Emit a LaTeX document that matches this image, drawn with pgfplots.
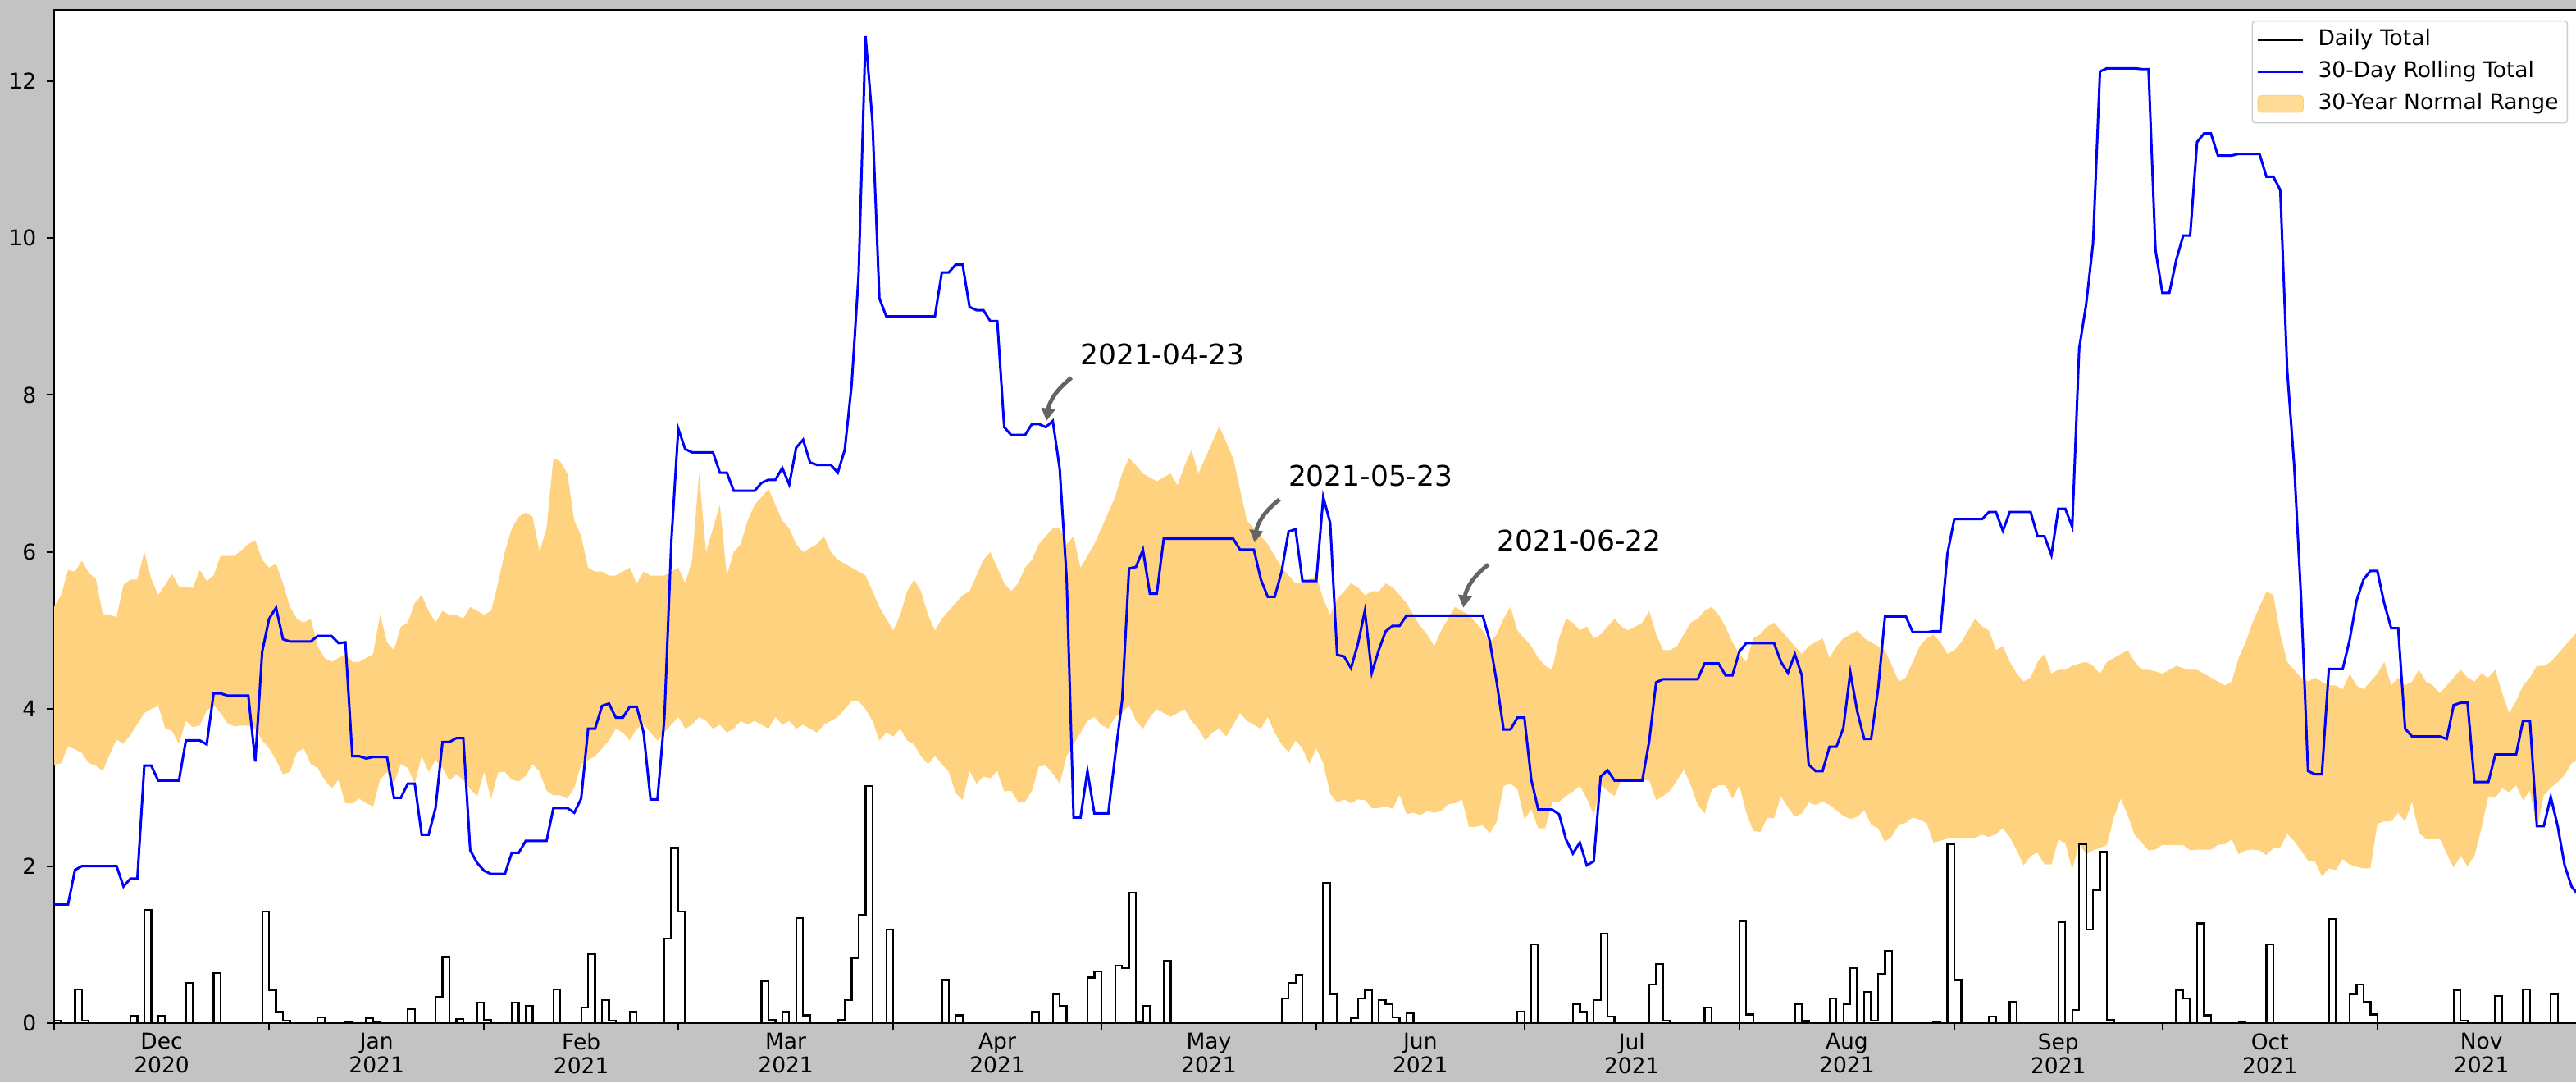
\documentclass[border=0pt]{standalone}
\usepackage{pgfplots}
\pgfplotsset{compat=1.18}
\usetikzlibrary{arrows.meta}
\usepackage{fontspec}
\setmainfont{DejaVu Sans}
\definecolor{bgcol}{RGB}{195,195,195}
\definecolor{bandcol}{RGB}{255,210,127}
\definecolor{arrcol}{RGB}{100,100,100}
\begin{document}
\begin{tikzpicture}[x=1cm,y=1cm]
\fill[bgcol] (0,0) rectangle (31.41,13.19);
\begin{axis}[
  at={(0.66cm,0.72cm)}, anchor=south west,
  scale only axis, width=30.78cm, height=12.35cm,
  xmin=0, xmax=364, ymin=0, ymax=12.905,
  axis background/.style={fill=white},
  axis line style={line width=0.6pt},
  every tick/.style={black, line width=0.6pt},
  tick align=outside, tick pos=left,
  major tick length=2.65pt, minor tick length=2.65pt,
  ytick={0,2,4,6,8,10,12},
  /pgf/number format/assume math mode=true,
  ticklabel style={font=\fontsize{7.54pt}{8.3pt}\selectfont},
  xtick={0,31,62,90,121,151,182,212,243,274,304,335},
  xticklabels={},
  extra x ticks={15.5,46.5,76,105.5,136,166.5,197,227.5,258.5,289,319.5,350},
  extra x tick labels={{Dec\\2020},{Jan\\2021},{Feb\\2021},{Mar\\2021},{Apr\\2021},{May\\2021},{Jun\\2021},{Jul\\2021},{Aug\\2021},{Sep\\2021},{Oct\\2021},{Nov\\2021}},
  extra x tick style={major tick length=0pt, xticklabel style={align=center, font=\fontsize{7.54pt}{8.25pt}\selectfont}},
  legend cell align=left,
  legend image code/.code={\draw[#1] (0pt,0pt) -- (15.6pt,0pt);},
  legend style={font=\fontsize{7.54pt}{9pt}\selectfont, draw=black!20, rounded corners=1pt,
    fill=white, fill opacity=0.8, text opacity=1,
    at={(rel axis cs:0.9958,0.9895)}, anchor=north east,
    inner xsep=1.6pt, inner ysep=1.3pt, row sep=0.6pt, column sep=3.3pt,
    nodes={inner sep=1.5pt, text height=5.7pt, text depth=1.8pt}},
]
% 30-year normal range: upper edge (day 0 -> 364), then lower edge (day 364 -> 0)
\addplot[fill=bandcol, draw=none, forget plot] coordinates {
(0,5.30)(1,5.45)(2,5.77)(3,5.75)(4,5.89)(5,5.73)(6,5.66)(7,5.21)(8,5.20)(9,5.17)(10,5.58)(11,5.65)(12,5.65)(13,6.00)(14,5.66)(15,5.45)(16,5.58)(17,5.72)(18,5.56)(19,5.56)(20,5.54)(21,5.77)(22,5.63)(23,5.70)(24,5.95)(25,5.95)(26,5.95)(27,6.02)(28,6.10)(29,6.15)(30,5.90)(31,5.80)(32,5.85)(33,5.60)(34,5.30)(35,5.15)(36,5.10)(37,5.15)(38,4.80)(39,4.65)(40,4.60)(41,4.65)(42,4.70)(43,4.60)(44,4.60)(45,4.65)(46,4.70)(47,5.20)(48,4.85)(49,4.75)(50,5.05)(51,5.10)(52,5.35)(53,5.45)(54,5.25)(55,5.10)(56,5.25)(57,5.20)(58,5.20)(59,5.15)(60,5.30)(61,5.25)(62,5.20)(63,5.25)(64,5.60)(65,6.00)(66,6.30)(67,6.45)(68,6.50)(69,6.45)(70,6.00)(71,6.30)(72,7.20)(73,7.15)(74,7.00)(75,6.40)(76,6.20)(77,5.80)(78,5.75)(79,5.75)(80,5.70)(81,5.70)(82,5.75)(83,5.80)(84,5.60)(85,5.75)(86,5.70)(87,5.70)(88,5.70)(89,5.75)(90,5.80)(91,5.60)(92,5.90)(93,7.00)(94,6.00)(95,6.30)(96,6.60)(97,5.70)(98,6.00)(99,6.10)(100,6.40)(101,6.60)(102,6.70)(103,6.80)(104,6.60)(105,6.40)(106,6.30)(107,6.10)(108,6.00)(109,6.05)(110,6.10)(111,6.20)(112,6.00)(113,5.90)(114,5.85)(115,5.80)(116,5.75)(117,5.70)(118,5.50)(119,5.30)(120,5.15)(121,5.00)(122,5.20)(123,5.50)(124,5.65)(125,5.50)(126,5.20)(127,5.00)(128,5.15)(129,5.25)(130,5.35)(131,5.45)(132,5.50)(133,5.70)(134,5.90)(135,6.00)(136,5.80)(137,5.60)(138,5.50)(139,5.60)(140,5.80)(141,5.90)(142,6.10)(143,6.20)(144,6.30)(145,6.30)(146,6.10)(147,6.20)(148,5.80)(149,5.95)(150,6.10)(151,6.30)(152,6.50)(153,6.70)(154,7.00)(155,7.20)(156,7.10)(157,7.00)(158,6.95)(159,6.90)(160,6.95)(161,7.00)(162,6.85)(163,7.10)(164,7.30)(165,7.00)(166,7.20)(167,7.40)(168,7.60)(169,7.40)(170,7.20)(171,6.80)(172,6.40)(173,6.30)(174,6.20)(175,6.10)(176,5.95)(177,5.80)(178,5.70)(179,5.60)(180,5.60)(181,5.65)(182,5.70)(183,5.40)(184,5.20)(185,5.40)(186,5.50)(187,5.60)(188,5.55)(189,5.45)(190,5.50)(191,5.50)(192,5.60)(193,5.55)(194,5.45)(195,5.35)(196,5.20)(197,5.05)(198,4.95)(199,4.80)(200,5.00)(201,5.15)(202,5.30)(203,5.25)(204,5.20)(205,5.10)(206,5.00)(207,4.85)(208,4.95)(209,5.15)(210,5.30)(211,5.00)(212,4.90)(213,4.80)(214,4.65)(215,4.55)(216,4.50)(217,4.90)(218,5.15)(219,5.10)(220,5.00)(221,5.05)(222,4.90)(223,4.95)(224,5.05)(225,5.15)(226,5.05)(227,5.00)(228,5.05)(229,5.10)(230,5.25)(231,4.95)(232,4.75)(233,4.75)(234,4.80)(235,4.95)(236,5.10)(237,5.15)(238,5.25)(239,5.30)(240,5.20)(241,5.05)(242,4.85)(243,4.70)(244,4.60)(245,4.90)(246,4.95)(247,5.05)(248,5.10)(249,5.00)(250,4.90)(251,4.80)(252,4.70)(253,4.80)(254,4.85)(255,4.90)(256,4.65)(257,4.80)(258,4.90)(259,4.95)(260,5.00)(261,4.90)(262,4.85)(263,4.80)(264,4.75)(265,4.55)(266,4.35)(267,4.40)(268,4.60)(269,4.80)(270,4.90)(271,4.95)(272,4.85)(273,4.70)(274,4.75)(275,4.85)(276,5.00)(277,5.15)(278,5.05)(279,5.00)(280,4.75)(281,4.80)(282,4.60)(283,4.45)(284,4.35)(285,4.40)(286,4.60)(287,4.70)(288,4.45)(289,4.50)(290,4.50)(291,4.55)(292,4.58)(293,4.60)(294,4.55)(295,4.45)(296,4.60)(297,4.65)(298,4.70)(299,4.75)(300,4.60)(301,4.50)(302,4.50)(303,4.48)(304,4.45)(305,4.50)(306,4.55)(307,4.52)(308,4.50)(309,4.50)(310,4.45)(311,4.40)(312,4.35)(313,4.30)(314,4.35)(315,4.65)(316,4.85)(317,5.10)(318,5.30)(319,5.50)(320,5.45)(321,4.95)(322,4.60)(323,4.50)(324,4.40)(325,4.35)(326,4.40)(327,4.35)(328,4.30)(329,4.30)(330,4.25)(331,4.45)(332,4.30)(333,4.25)(334,4.35)(335,4.45)(336,4.60)(337,4.30)(338,4.40)(339,4.30)(340,4.35)(341,4.50)(342,4.35)(343,4.30)(344,4.20)(345,4.30)(346,4.40)(347,4.50)(348,4.40)(349,4.35)(350,4.45)(351,4.40)(352,4.50)(353,4.20)(354,3.95)(355,4.10)(356,4.30)(357,4.40)(358,4.55)(359,4.55)(360,4.60)(361,4.70)(362,4.80)(363,4.90)(364,5.00)
(364,3.35)(363,3.31)(362,3.16)(361,3.07)(360,3.00)(359,2.90)(358,2.48)(357,2.96)(356,2.84)(355,3.03)(354,2.94)(353,2.99)(352,2.87)(351,2.89)(350,2.48)(349,2.13)(348,2.00)(347,2.13)(346,1.98)(345,2.16)(344,2.35)(343,2.35)(342,2.35)(341,2.42)(340,2.82)(339,2.57)(338,2.68)(337,2.57)(336,2.57)(335,2.54)(334,1.97)(333,1.97)(332,1.99)(331,2.02)(330,2.09)(329,1.95)(328,1.97)(327,1.87)(326,2.06)(325,2.07)(324,2.20)(323,2.32)(322,2.41)(321,2.24)(320,2.23)(319,2.14)(318,2.20)(317,2.21)(316,2.20)(315,2.15)(314,2.34)(313,2.28)(312,2.27)(311,2.21)(310,2.21)(309,2.21)(308,2.20)(307,2.27)(306,2.27)(305,2.27)(304,2.27)(303,2.21)(302,2.20)(301,2.30)(300,2.40)(299,2.65)(298,2.86)(297,2.62)(296,2.27)(295,2.23)(294,2.20)(293,2.15)(292,2.29)(291,1.96)(290,2.29)(289,2.34)(288,2.02)(287,2.02)(286,2.17)(285,2.13)(284,2.01)(283,2.20)(282,2.37)(281,2.48)(280,2.41)(279,2.37)(278,2.40)(277,2.36)(276,2.36)(275,2.36)(274,2.36)(273,2.36)(272,2.32)(271,2.30)(270,2.55)(269,2.59)(268,2.62)(267,2.55)(266,2.53)(265,2.38)(264,2.31)(263,2.48)(262,2.53)(261,2.71)(260,2.63)(259,2.60)(258,2.64)(257,2.71)(256,2.78)(255,2.82)(254,2.78)(253,2.81)(252,2.67)(251,2.63)(250,2.75)(249,2.89)(248,2.61)(247,2.61)(246,2.43)(245,2.45)(244,2.68)(243,3.03)(242,2.86)(241,3.03)(240,3.03)(239,2.97)(238,2.67)(237,2.78)(236,3.03)(235,3.23)(234,3.09)(233,2.96)(232,2.89)(231,2.84)(230,3.09)(229,3.10)(228,3.10)(227,3.10)(226,3.10)(225,2.89)(224,2.96)(223,3.03)(222,2.65)(221,2.86)(220,3.02)(219,2.95)(218,2.89)(217,2.82)(216,2.81)(215,2.48)(214,2.48)(213,2.72)(212,2.60)(211,2.98)(210,3.05)(209,3.02)(208,2.56)(207,2.42)(206,2.52)(205,2.50)(204,2.50)(203,2.85)(202,2.80)(201,2.79)(200,2.70)(199,2.68)(198,2.70)(197,2.65)(196,2.68)(195,2.66)(194,2.91)(193,2.73)(192,2.76)(191,2.74)(190,2.74)(189,2.84)(188,2.85)(187,2.80)(186,2.85)(185,2.81)(184,2.92)(183,3.31)(182,3.50)(181,3.30)(180,3.50)(179,3.60)(178,3.45)(177,3.55)(176,3.70)(175,3.90)(174,3.75)(173,3.80)(172,3.85)(171,3.95)(170,3.80)(169,3.65)(168,3.75)(167,3.70)(166,3.60)(165,3.75)(164,3.85)(163,4.00)(162,3.95)(161,3.90)(160,3.95)(159,4.00)(158,3.90)(157,3.75)(156,3.85)(155,4.05)(154,3.95)(153,3.90)(152,3.75)(151,3.80)(150,3.90)(149,3.85)(148,3.70)(147,3.55)(146,3.40)(145,3.05)(144,3.18)(143,3.28)(142,3.27)(141,2.96)(140,2.82)(139,2.82)(138,2.96)(137,2.95)(136,3.21)(135,3.12)(134,3.14)(133,3.05)(132,3.21)(131,2.84)(130,2.93)(129,3.20)(128,3.30)(127,3.40)(126,3.30)(125,3.40)(124,3.55)(123,3.60)(122,3.75)(121,3.65)(120,3.70)(119,3.60)(118,3.85)(117,4.00)(116,4.10)(115,4.10)(114,4.00)(113,3.90)(112,3.85)(111,3.80)(110,3.70)(109,3.75)(108,3.80)(107,3.75)(106,3.85)(105,3.80)(104,3.90)(103,3.75)(102,3.80)(101,3.85)(100,3.80)(99,3.85)(98,3.75)(97,3.70)(96,3.80)(95,3.75)(94,3.85)(93,3.90)(92,3.80)(91,3.75)(90,3.90)(89,3.80)(88,3.70)(87,3.60)(86,3.70)(85,3.80)(84,3.75)(83,3.60)(82,3.70)(81,3.75)(80,3.60)(79,3.50)(78,3.40)(77,3.35)(76,3.30)(75,3.00)(74,2.86)(73,2.90)(72,2.90)(71,2.96)(70,3.20)(69,3.30)(68,3.15)(67,3.08)(66,3.10)(65,3.20)(64,3.19)(63,2.86)(62,3.20)(61,2.89)(60,2.98)(59,3.10)(58,3.17)(57,3.09)(56,3.25)(55,3.35)(54,3.20)(53,3.40)(52,3.05)(51,3.25)(50,3.30)(49,3.05)(48,3.20)(47,3.10)(46,2.76)(45,2.80)(44,2.86)(43,2.80)(42,2.80)(41,3.10)(40,2.99)(39,3.10)(38,3.25)(37,3.30)(36,3.50)(35,3.45)(34,3.20)(33,3.17)(32,3.35)(31,3.50)(30,3.60)(29,3.75)(28,3.79)(27,3.79)(26,3.78)(25,3.82)(24,3.95)(23,4.05)(22,3.98)(21,3.79)(20,3.77)(19,3.85)(18,3.56)(17,3.72)(16,3.76)(15,4.04)(14,4.00)(13,3.95)(12,3.81)(11,3.67)(10,3.56)(9,3.61)(8,3.42)(7,3.21)(6,3.28)(5,3.31)(4,3.44)(3,3.49)(2,3.52)(1,3.31)(0,3.29)
};
% daily total
\addplot[const plot, black, line width=0.65pt] coordinates {
(0,0.03)(1,0)(3,0.43)(4,0.035)(5,0)(11,0.09)(12,0)(13,1.44)(14,0)(15,0.09)(16,0)(19,0.515)(20,0)(23,0.64)(24,0)(30,1.42)(31,0.42)(32,0.14)(33,0.035)(34,0)(38,0.07)(39,0)(42,0.014)(43,0)(45,0.06)(46,0.015)(47,0)(51,0.18)(52,0)(55,0.33)(56,0.84)(57,0)(58,0.05)(59,0)(61,0.26)(62,0.04)(63,0)(66,0.26)(67,0)(68,0.22)(69,0)(72,0.43)(73,0)(76,0.20)(77,0.88)(78,0)(79,0.29)(80,0.03)(81,0)(83,0.14)(84,0)(88,1.08)(89,2.23)(90,1.42)(91,0)(102,0.53)(103,0.04)(104,0)(105,0.14)(106,0)(107,1.34)(108,0.10)(109,0)(113,0.04)(114,0.29)(115,0.83)(116,1.38)(117,3.02)(118,0)(120,1.19)(121,0)(128,0.55)(129,0)(130,0.10)(131,0)(141,0.14)(142,0)(144,0.37)(145,0.22)(146,0)(149,0.58)(150,0.66)(151,0)(153,0.73)(154,0.70)(155,1.66)(156,0.02)(157,0.22)(158,0)(160,0.79)(161,0)(177,0.31)(178,0.515)(179,0.61)(180,0)(183,1.79)(184,0.37)(185,0)(187,0.066)(188,0.31)(189,0.42)(190,0)(191,0.29)(192,0.24)(193,0.07)(194,0)(195,0.125)(196,0)(211,0.15)(212,0)(213,1.0)(214,0)(219,0.24)(220,0.14)(221,0)(222,0.29)(223,1.14)(224,0.08)(225,0)(230,0.49)(231,0.75)(232,0.035)(233,0)(238,0.20)(239,0)(243,1.30)(244,0.11)(245,0)(251,0.24)(252,0.025)(253,0)(256,0.31)(257,0)(258,0.24)(259,0.70)(260,0)(261,0.40)(262,0.035)(263,0.63)(264,0.92)(265,0)(271,0.014)(272,0)(273,2.28)(274,0.55)(275,0)(279,0.084)(280,0)(282,0.27)(283,0)(289,1.29)(290,0)(291,0.17)(292,2.28)(293,1.19)(294,1.69)(295,2.18)(296,0.04)(297,0)(306,0.42)(307,0.31)(308,0)(309,1.27)(310,0.10)(311,0)(315,0.02)(316,0)(319,1.0)(320,0)(328,1.33)(329,0)(331,0.37)(332,0.49)(333,0.27)(334,0.11)(335,0)(346,0.42)(347,0.03)(348,0)(352,0.345)(353,0)(356,0.425)(357,0)(360,0.37)(361,0)(365,0)
};
\addlegendentry{Daily Total}
% 30-day rolling total
\addplot[blue, line width=0.85pt] coordinates {
(0,1.51)(2,1.51)(3,1.95)(4,2.00)(9,2.00)(10,1.74)(11,1.84)(12,1.84)(13,3.28)(14,3.28)(15,3.09)(18,3.09)(19,3.60)(21,3.60)(22,3.55)(23,4.20)(24,4.20)(25,4.17)(28,4.17)(29,3.33)(30,4.73)(31,5.15)(32,5.29)(33,4.89)(34,4.86)(37,4.86)(38,4.93)(40,4.93)(41,4.84)(42,4.85)(43,3.40)(44,3.40)(45,3.37)(46,3.39)(48,3.39)(49,2.87)(50,2.87)(51,3.05)(52,3.05)(53,2.40)(54,2.40)(55,2.74)(56,3.58)(57,3.58)(58,3.63)(59,3.63)(60,2.20)(61,2.04)(62,1.94)(63,1.90)(65,1.90)(66,2.17)(67,2.17)(68,2.32)(71,2.32)(72,2.74)(74,2.74)(75,2.68)(76,2.86)(77,3.75)(78,3.75)(79,4.04)(80,4.07)(81,3.89)(82,3.89)(83,4.03)(84,4.03)(85,3.70)(86,2.85)(87,2.85)(88,3.89)(89,6.14)(90,7.57)(91,7.31)(92,7.27)(95,7.27)(96,7.01)(97,7.01)(98,6.78)(101,6.78)(102,6.88)(103,6.92)(104,6.92)(105,7.07)(106,6.86)(107,7.33)(108,7.43)(109,7.14)(110,7.11)(112,7.11)(113,7.01)(114,7.30)(115,8.13)(116,9.53)(117,12.57)(118,11.48)(119,9.23)(120,9.00)(127,9.00)(128,9.56)(129,9.56)(130,9.66)(131,9.66)(132,9.12)(133,9.08)(134,9.08)(135,8.94)(136,8.94)(137,7.59)(138,7.49)(140,7.49)(141,7.63)(142,7.63)(143,7.59)(144,7.67)(145,7.06)(146,5.66)(147,2.62)(148,2.62)(149,3.21)(150,2.67)(152,2.67)(153,3.41)(154,4.11)(155,5.79)(156,5.81)(157,6.03)(158,5.47)(159,5.47)(160,6.17)(170,6.17)(171,6.03)(173,6.03)(174,5.65)(175,5.43)(176,5.43)(177,5.75)(178,6.26)(179,6.29)(180,5.63)(182,5.63)(183,6.70)(184,6.37)(185,4.69)(186,4.67)(187,4.52)(188,4.83)(189,5.25)(190,4.46)(191,4.75)(192,4.99)(193,5.06)(194,5.06)(195,5.19)(206,5.19)(207,4.87)(208,4.35)(209,3.74)(210,3.74)(211,3.89)(212,3.89)(213,3.10)(214,2.72)(216,2.72)(217,2.66)(218,2.34)(219,2.16)(220,2.30)(221,2.01)(222,2.06)(223,3.14)(224,3.22)(225,3.09)(229,3.09)(230,3.59)(231,4.34)(232,4.38)(237,4.38)(238,4.58)(240,4.58)(241,4.43)(242,4.43)(243,4.73)(244,4.84)(248,4.84)(249,4.60)(250,4.46)(251,4.70)(252,4.43)(253,3.29)(254,3.21)(255,3.21)(256,3.52)(257,3.52)(258,3.76)(259,4.47)(260,3.97)(261,3.62)(262,3.62)(263,4.25)(264,5.18)(267,5.18)(268,4.98)(270,4.98)(271,4.99)(272,4.99)(273,5.98)(274,6.42)(278,6.42)(279,6.51)(280,6.51)(281,6.27)(282,6.51)(285,6.51)(286,6.20)(287,6.20)(288,5.96)(289,6.55)(290,6.55)(291,6.32)(292,8.59)(293,9.15)(294,9.93)(295,12.12)(296,12.16)(300,12.16)(301,12.15)(302,12.15)(303,9.85)(304,9.30)(305,9.30)(306,9.72)(307,10.03)(308,10.03)(309,11.22)(310,11.33)(311,11.33)(312,11.05)(314,11.05)(315,11.07)(318,11.07)(319,10.78)(320,10.78)(321,10.61)(322,8.31)(323,7.11)(324,5.41)(325,3.21)(326,3.17)(327,3.17)(328,4.51)(330,4.51)(331,4.88)(332,5.38)(333,5.65)(334,5.76)(335,5.76)(336,5.34)(337,5.03)(338,5.03)(339,3.75)(340,3.65)(344,3.65)(345,3.62)(346,4.05)(347,4.08)(348,4.08)(349,3.07)(351,3.07)(352,3.42)(355,3.42)(356,3.85)(357,3.85)(358,2.51)(359,2.51)(360,2.88)(361,2.51)(362,2.01)(363,1.74)(364,1.63)
};
\addlegendentry{30-Day Rolling Total}
\addlegendimage{legend image code/.code={\fill[bandcol] (0pt,-2.85pt) rectangle (15.6pt,2.85pt);}}
\addlegendentry{30-Year Normal Range}
% annotations
\draw[arrcol, line width=1.4pt, -{Triangle[length=4.3pt,width=4.6pt]}] (axis cs:146.7,8.22) to[bend right=22] (axis cs:143.1,7.67);
\node[anchor=base west, inner sep=0pt, font=\fontsize{9.8pt}{11pt}\selectfont] at (axis cs:147.9,8.39) {2021-04-23};
\draw[arrcol, line width=1.4pt, -{Triangle[length=4.3pt,width=4.6pt]}] (axis cs:176.7,6.67) to[bend right=22] (axis cs:173.1,6.12);
\node[anchor=base west, inner sep=0pt, font=\fontsize{9.8pt}{11pt}\selectfont] at (axis cs:177.9,6.84) {2021-05-23};
\draw[arrcol, line width=1.4pt, -{Triangle[length=4.3pt,width=4.6pt]}] (axis cs:206.8,5.84) to[bend right=22] (axis cs:203.2,5.29);
\node[anchor=base west, inner sep=0pt, font=\fontsize{9.8pt}{11pt}\selectfont] at (axis cs:208.0,6.01) {2021-06-22};
\end{axis}
\pgfresetboundingbox
\path[use as bounding box] (0,0) rectangle (31.41,13.19);
\end{tikzpicture}
\end{document}
